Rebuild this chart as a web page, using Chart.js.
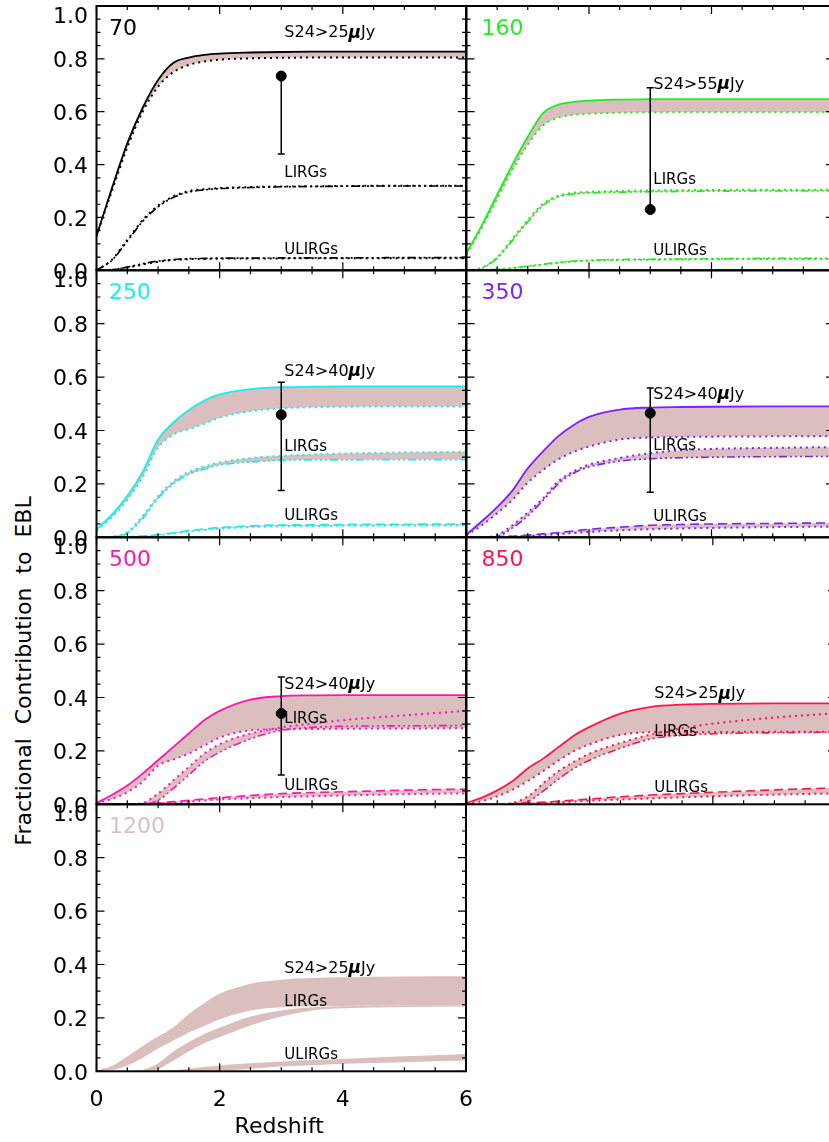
<!DOCTYPE html>
<html>
<head>
<meta charset="utf-8">
<script src="https://cdn.jsdelivr.net/npm/chart.js@4.4.1/dist/chart.umd.min.js"></script>
<style>
  html, body { margin: 0; padding: 0; background: #fff; overflow: hidden; }
  #wrap { position: relative; width: 829px; height: 1142px; overflow: hidden; }
  canvas { position: absolute; left: 0; top: 0; }
  #ytitle {
    position: absolute; left: 23px; top: 671px;
    transform: translate(-50%, -50%) rotate(-90deg);
    white-space: pre; font: 22px 'DejaVu Sans'; color: #000;
  }
</style>
</head>
<body>
<div id="wrap">
  <div id="ytitle">Fractional  Contribution  to  EBL</div>
</div>
<script>
// redshift grid shared by all curves
const redshift = [0, 0.25, 0.5, 0.75, 1, 1.25, 1.5, 1.75, 2, 2.5, 3, 3.5, 4, 5, 6]
const xTicks = [0, 2, 4, 6]
const yTicks = [0, 0.2, 0.4, 0.6, 0.8, 1.0]

const bands = ['70', '160', '250', '350', '500', '850', '1200']
const cuts = ['S24>25μJy', 'S24>55μJy', 'S24>40μJy', 'S24>40μJy', 'S24>40μJy', 'S24>25μJy', 'S24>25μJy']

// total (S24 cut) : upper solid / lower dotted
const tot70Up   = [0.13, 0.31, 0.48, 0.615, 0.72, 0.785, 0.805, 0.815, 0.82, 0.824, 0.826, 0.827, 0.827, 0.827, 0.827]
const tot70Lo   = [0.13, 0.30, 0.465, 0.6, 0.695, 0.75, 0.777, 0.79, 0.797, 0.802, 0.804, 0.805, 0.805, 0.805, 0.805]
const tot160Up  = [0.065, 0.17, 0.285, 0.4, 0.505, 0.595, 0.627, 0.637, 0.642, 0.646, 0.648, 0.648, 0.648, 0.648, 0.648]
const tot160Lo  = [0.06, 0.16, 0.27, 0.38, 0.475, 0.548, 0.577, 0.588, 0.592, 0.596, 0.597, 0.598, 0.598, 0.598, 0.598]
const tot250Up  = [0.03, 0.085, 0.155, 0.245, 0.365, 0.43, 0.477, 0.512, 0.535, 0.555, 0.562, 0.564, 0.565, 0.565, 0.565]
const tot250Lo  = [0.025, 0.075, 0.14, 0.225, 0.335, 0.385, 0.405, 0.425, 0.448, 0.472, 0.483, 0.487, 0.489, 0.49, 0.49]
const tot350Up  = [0.01, 0.06, 0.113, 0.175, 0.258, 0.322, 0.379, 0.421, 0.451, 0.478, 0.486, 0.488, 0.489, 0.49, 0.49]
const tot350Lo  = [0.008, 0.045, 0.09, 0.14, 0.205, 0.252, 0.292, 0.32, 0.34, 0.366, 0.374, 0.376, 0.377, 0.378, 0.378]
const tot500Up  = [0.005, 0.035, 0.07, 0.115, 0.165, 0.215, 0.265, 0.315, 0.35, 0.392, 0.405, 0.408, 0.409, 0.409, 0.409]
const tot500Lo  = [0.003, 0.02, 0.045, 0.085, 0.145, 0.168, 0.19, 0.22, 0.25, 0.277, 0.281, 0.282, 0.283, 0.284, 0.285]
const tot850Up  = [0.005, 0.025, 0.052, 0.087, 0.135, 0.172, 0.215, 0.258, 0.29, 0.34, 0.365, 0.373, 0.376, 0.378, 0.378]
const tot850Lo  = [0.003, 0.012, 0.03, 0.055, 0.088, 0.125, 0.165, 0.2, 0.225, 0.26, 0.27, 0.271, 0.271, 0.272, 0.272]
const tot1200Up = [0.003, 0.02, 0.055, 0.095, 0.13, 0.165, 0.215, 0.255, 0.29, 0.328, 0.343, 0.349, 0.352, 0.355, 0.356]
const tot1200Lo = [0, 0.005, 0.022, 0.05, 0.085, 0.115, 0.145, 0.17, 0.195, 0.228, 0.24, 0.244, 0.245, 0.246, 0.246]

// LIRGs : upper dotted / lower dash-dot
const lirg70Up   = [0, 0.04, 0.115, 0.19, 0.245, 0.28, 0.3, 0.307, 0.311, 0.315, 0.317, 0.318, 0.319, 0.32, 0.32]
const lirg70Lo   = [0, 0.038, 0.11, 0.185, 0.24, 0.276, 0.296, 0.304, 0.309, 0.313, 0.316, 0.317, 0.318, 0.319, 0.319]
const lirg160Up  = [0, 0.01, 0.05, 0.12, 0.19, 0.252, 0.282, 0.293, 0.297, 0.3, 0.302, 0.303, 0.304, 0.305, 0.305]
const lirg160Lo  = [0, 0.008, 0.045, 0.112, 0.182, 0.245, 0.277, 0.288, 0.292, 0.295, 0.297, 0.298, 0.299, 0.3, 0.3]
const lirg250Up  = [0, 0.003, 0.02, 0.08, 0.155, 0.21, 0.245, 0.265, 0.28, 0.297, 0.305, 0.31, 0.314, 0.318, 0.32]
const lirg250Lo  = [0, 0.002, 0.015, 0.07, 0.145, 0.2, 0.235, 0.255, 0.27, 0.282, 0.288, 0.29, 0.29, 0.291, 0.291]
const lirg350Up  = [0, 0, 0.008, 0.045, 0.093, 0.146, 0.21, 0.247, 0.272, 0.297, 0.315, 0.326, 0.331, 0.335, 0.338]
const lirg350Lo  = [0, 0, 0.003, 0.035, 0.08, 0.138, 0.2, 0.24, 0.263, 0.285, 0.294, 0.298, 0.3, 0.302, 0.303]
const lirg500Up  = [0, 0, 0, 0.005, 0.04, 0.09, 0.14, 0.19, 0.225, 0.265, 0.288, 0.302, 0.315, 0.333, 0.35]
const lirg500Lo  = [0, 0, 0, 0, 0.015, 0.06, 0.11, 0.16, 0.195, 0.245, 0.277, 0.288, 0.292, 0.294, 0.295]
const lirg850Up  = [0, 0, 0, 0.005, 0.03, 0.08, 0.125, 0.16, 0.19, 0.23, 0.262, 0.285, 0.302, 0.325, 0.341]
const lirg850Lo  = [0, 0, 0, 0, 0.01, 0.05, 0.095, 0.135, 0.165, 0.21, 0.245, 0.258, 0.264, 0.268, 0.27]
const lirg1200Up = [0, 0, 0, 0.005, 0.03, 0.075, 0.11, 0.14, 0.163, 0.205, 0.228, 0.24, 0.244, 0.246, 0.246]
const lirg1200Lo = [0, 0, 0, 0, 0.008, 0.04, 0.075, 0.105, 0.128, 0.172, 0.205, 0.228, 0.236, 0.241, 0.2425]

// ULIRGs : upper dashed / lower dotted
const ulirg70Up   = [0, 0.003, 0.012, 0.025, 0.035, 0.041, 0.044, 0.045, 0.046, 0.046, 0.047, 0.047, 0.047, 0.048, 0.048]
const ulirg70Lo   = [0, 0.002, 0.01, 0.022, 0.032, 0.039, 0.042, 0.043, 0.044, 0.045, 0.045, 0.046, 0.046, 0.046, 0.046]
const ulirg160Up  = [0, 0.001, 0.004, 0.009, 0.016, 0.023, 0.03, 0.035, 0.038, 0.041, 0.042, 0.043, 0.044, 0.045, 0.045]
const ulirg160Lo  = [0, 0.001, 0.003, 0.008, 0.014, 0.021, 0.028, 0.033, 0.036, 0.039, 0.04, 0.041, 0.042, 0.043, 0.043]
const ulirg250Up  = [0, 0, 0.002, 0.005, 0.01, 0.017, 0.025, 0.031, 0.037, 0.043, 0.046, 0.047, 0.048, 0.049, 0.05]
const ulirg250Lo  = [0, 0, 0.001, 0.004, 0.008, 0.014, 0.021, 0.027, 0.032, 0.038, 0.041, 0.042, 0.043, 0.044, 0.044]
const ulirg350Up  = [0, 0, 0.002, 0.004, 0.008, 0.013, 0.018, 0.024, 0.03, 0.038, 0.045, 0.048, 0.05, 0.052, 0.054]
const ulirg350Lo  = [0, 0, 0.001, 0.003, 0.005, 0.008, 0.012, 0.016, 0.02, 0.026, 0.03, 0.033, 0.035, 0.038, 0.04]
const ulirg500Up  = [0, 0, 0, 0.002, 0.005, 0.01, 0.015, 0.02, 0.025, 0.033, 0.04, 0.044, 0.047, 0.053, 0.057]
const ulirg500Lo  = [0, 0, 0, 0, 0.003, 0.006, 0.01, 0.014, 0.018, 0.023, 0.027, 0.03, 0.033, 0.038, 0.041]
const ulirg850Up  = [0, 0, 0.001, 0.003, 0.005, 0.008, 0.012, 0.016, 0.02, 0.028, 0.035, 0.04, 0.045, 0.054, 0.062]
const ulirg850Lo  = [0, 0, 0, 0.001, 0.002, 0.004, 0.007, 0.01, 0.013, 0.018, 0.022, 0.026, 0.03, 0.036, 0.041]
const ulirg1200Up = [0, 0, 0, 0.001, 0.002, 0.005, 0.01, 0.016, 0.022, 0.03, 0.037, 0.042, 0.046, 0.056, 0.065]
const ulirg1200Lo = [0, 0, 0, 0, 0, 0, 0.001, 0.002, 0.003, 0.01, 0.018, 0.023, 0.028, 0.034, 0.04]

// measured point at z=3 with its range (null = none)
const obsZ = 3
const obsVal  = [0.735, 0.23, 0.459, 0.465, 0.34, null, null]
const obsLow  = [0.44, 0.23, 0.175, 0.169, 0.11, null, null]
const obsHigh = [0.735, 0.691, 0.581, 0.559, 0.477, null, null]

const totUp   = [tot70Up, tot160Up, tot250Up, tot350Up, tot500Up, tot850Up, tot1200Up]
const totLo   = [tot70Lo, tot160Lo, tot250Lo, tot350Lo, tot500Lo, tot850Lo, tot1200Lo]
const lirgUp  = [lirg70Up, lirg160Up, lirg250Up, lirg350Up, lirg500Up, lirg850Up, lirg1200Up]
const lirgLo  = [lirg70Lo, lirg160Lo, lirg250Lo, lirg350Lo, lirg500Lo, lirg850Lo, lirg1200Lo]
const ulirgUp = [ulirg70Up, ulirg160Up, ulirg250Up, ulirg350Up, ulirg500Up, ulirg850Up, ulirg1200Up]
const ulirgLo = [ulirg70Lo, ulirg160Lo, ulirg250Lo, ulirg350Lo, ulirg500Lo, ulirg850Lo, ulirg1200Lo]

// styling / layout
const colors = ['#000000', '#1ef01e', '#14f0f0', '#8020ff', '#ff14b4', '#ff1450', '#dbbebe']
const bandFill = '#dbbebe'
const labelY = [[0.897, 0.366, 0.076], [0.703, 0.342, 0.072], [0.621, 0.3375, 0.0775], [0.534, 0.34, 0.075],
                [0.447, 0.319, 0.069], [0.4125, 0.269, 0.06], [0.384, 0.261, 0.059]]
const colX = [96.5, 466.5]
const rowY = [3.3, 270.3, 537.3, 804.3]
const PW = 369.5, PH = 267
const CW = 840, CH = 1142
const FONT = "'DejaVu Sans'"

const DOT = [2, 4]
const DASH3DOT = [8, 3, 2, 3, 2, 3, 2, 3]
const DASH = [9, 5]

function pts(arr) {
    return redshift.map((z, i) => ({ x: z, y: arr[i] }))
}

function drawCut(ctx, txt, x, y) {
    // italic mu like the original
    let parts = txt.split('μ')
    ctx.font = '16px ' + FONT
    ctx.fillText(parts[0], x, y)
    let w = ctx.measureText(parts[0]).width
    ctx.font = 'italic bold 17px ' + FONT
    ctx.fillText('μ', x + w, y)
    w += ctx.measureText('μ').width
    ctx.font = '16px ' + FONT
    ctx.fillText(parts[1], x + w, y)
}

const framePlugin = {
    id: 'frame',
    afterDraw(chart) {
        const p = chart.options.plugins.frame
        const ctx = chart.ctx
        const xs = chart.scales.x, ys = chart.scales.y
        const a = chart.chartArea
        ctx.save()
        ctx.strokeStyle = '#000'
        ctx.fillStyle = '#000'
        ctx.lineWidth = 1.2
        // minor/major ticks on all four sides, pointing in
        for (let v = 0; v <= 6.001; v += 0.5) {
            const px = xs.getPixelForValue(v)
            const len = Math.abs(v / 2 - Math.round(v / 2)) < 1e-6 ? 8 : 4
            ctx.beginPath()
            ctx.moveTo(px, a.bottom); ctx.lineTo(px, a.bottom - len)
            ctx.moveTo(px, a.top); ctx.lineTo(px, a.top + len)
            ctx.stroke()
        }
        for (let v = 0; v <= 1.001; v += 0.05) {
            const py = ys.getPixelForValue(v)
            const len = Math.abs(v / 0.2 - Math.round(v / 0.2)) < 1e-6 ? 8 : 4
            ctx.beginPath()
            ctx.moveTo(a.left, py); ctx.lineTo(a.left + len, py)
            ctx.moveTo(a.right, py); ctx.lineTo(a.right - len, py)
            ctx.stroke()
        }
        ctx.lineWidth = 2
        ctx.strokeRect(a.left, a.top, a.right - a.left, a.bottom - a.top)

        ctx.font = '22px ' + FONT
        if (p.yLabels) {
            ctx.textAlign = 'right'
            ctx.textBaseline = 'alphabetic'
            yTicks.forEach(v => {
                const py = ys.getPixelForValue(v) + (v === 1 ? 16.5 : 8.3)
                ctx.fillText(v.toFixed(1), a.left - 8.5, py)
            })
        }
        if (p.xLabels) {
            ctx.textAlign = 'center'
            xTicks.forEach(v => {
                ctx.fillText(String(v), xs.getPixelForValue(v), a.bottom + 35)
            })
            ctx.fillText('Redshift', (a.left + a.right) / 2 - 2, a.bottom + 62)
        }
        // band name
        ctx.textAlign = 'left'
        ctx.fillStyle = p.color
        ctx.fillText(p.name, a.left + p.nameDx, a.top + 28.5)
        // annotations
        ctx.fillStyle = '#000'
        ctx.textBaseline = 'middle'
        const tx = xs.getPixelForValue(3.05)
        drawCut(ctx, p.cut, tx, ys.getPixelForValue(p.labY[0]))
        ctx.font = '15px ' + FONT
        ctx.fillText('LIRGs', tx, ys.getPixelForValue(p.labY[1]))
        ctx.fillText('ULIRGs', tx, ys.getPixelForValue(p.labY[2]))
        ctx.restore()
    }
}

const wrap = document.getElementById('wrap')

bands.forEach((name, k) => {
    const col = k % 2
    const row = Math.floor(k / 2)
    const x0 = colX[col], y0 = rowY[row]
    const c = colors[k]
    const onlyFill = name === '1200'
    const ulDash = (k < 2) ? DASH3DOT : DASH

    const canvas = document.createElement('canvas')
    canvas.width = CW; canvas.height = CH
    canvas.style.width = CW + 'px'; canvas.style.height = CH + 'px'
    wrap.appendChild(canvas)

    function line(arr, dash, width, fill) {
        return {
            data: pts(arr),
            borderColor: onlyFill ? 'rgba(0,0,0,0)' : c,
            borderWidth: onlyFill ? 0 : width,
            borderDash: dash,
            backgroundColor: bandFill,
            fill: fill ? '+1' : false,
            pointRadius: 0,
            cubicInterpolationMode: 'monotone'
        }
    }

    const datasets = [
        line(totUp[k], [], 1.8, true),
        line(totLo[k], DOT, 2, false),
        line(lirgUp[k], DOT, 2, true),
        line(lirgLo[k], DASH3DOT, 1.6, false),
        line(ulirgUp[k], ulDash, 1.6, true),
        line(ulirgLo[k], DOT, 2, false)
    ]

    if (obsVal[k] !== null) {
        datasets.push({
            data: [{ x: obsZ, y: obsLow[k] }, { x: obsZ, y: obsHigh[k] }],
            borderColor: '#000',
            borderWidth: 1.5,
            pointStyle: 'line',
            pointRadius: 3.5,
            pointBorderWidth: 1.5,
            pointBorderColor: '#000',
            fill: false,
            tension: 0,
            order: -2
        })
        datasets.push({
            data: [{ x: obsZ, y: obsVal[k] }],
            showLine: false,
            pointRadius: 5,
            pointBackgroundColor: '#000',
            pointBorderColor: '#000',
            fill: false,
            order: -3
        })
    }

    new Chart(canvas, {
        type: 'line',
        data: { datasets },
        options: {
            responsive: false,
            animation: false,
            events: [],
            layout: {
                padding: { left: x0, top: y0, right: CW - x0 - PW, bottom: CH - y0 - PH }
            },
            scales: {
                x: { type: 'linear', min: 0, max: 6, display: false },
                y: { type: 'linear', min: 0, max: 1, display: false }
            },
            plugins: {
                legend: { display: false },
                tooltip: { enabled: false },
                filler: { propagate: false, drawTime: 'beforeDatasetsDraw' },
                frame: {
                    name, color: c, cut: cuts[k], labY: labelY[k],
                    nameDx: col === 0 ? 12.5 : 15,
                    yLabels: col === 0,
                    xLabels: name === '1200'
                }
            }
        },
        plugins: [framePlugin]
    })
})
</script>
</body>
</html>
